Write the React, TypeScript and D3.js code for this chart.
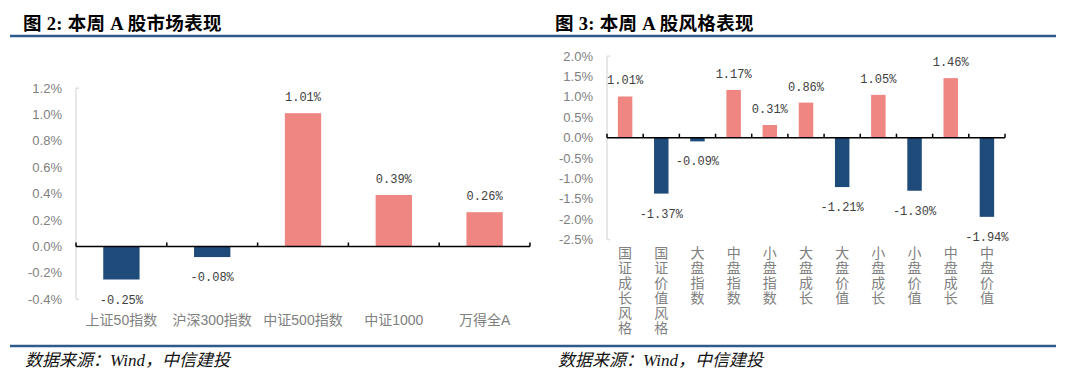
import React from "react";
import * as d3 from "d3";

const marketCategories = ["上证50指数", "沪深300指数", "中证500指数", "中证1000", "万得全A"];
const marketValues = [-0.25, -0.08, 1.01, 0.39, 0.26];
const marketTicks = [-0.4, -0.2, 0, 0.2, 0.4, 0.6, 0.8, 1.0, 1.2];

const styleCategories = [
  "国证成长风格", "国证价值风格", "大盘指数", "中盘指数", "小盘指数", "大盘成长",
  "大盘价值", "小盘成长", "小盘价值", "中盘成长", "中盘价值",
];
const styleValues = [1.01, -1.37, -0.09, 1.17, 0.31, 0.86, -1.21, 1.05, -1.3, 1.46, -1.94];
const styleTicks = [-2.5, -2.0, -1.5, -1.0, -0.5, 0, 0.5, 1.0, 1.5, 2.0];

const POS = "#EF8682";
const NEG = "#1F4B7A";
const RULE = "#2F5B8B";
const AXIS_TEXT = "#808080";
const LABEL_TEXT = "#404040";
const SANS = "'Liberation Sans', Arial, 'Noto Sans CJK SC', sans-serif";
const MONO = "'Liberation Mono', 'DejaVu Sans Mono', monospace";
const SERIF = "'Liberation Serif', 'Noto Sans CJK SC', serif";

type PanelProps = {
  cats: string[];
  vals: number[];
  ticks: number[];
  x0: number;
  x1: number;
  yTop: number;
  yBot: number;
  dMin: number;
  dMax: number;
  tickLabelX: number;
  vertical: boolean;
  catY: number;
};

function Panel(p: PanelProps) {
  const x = d3.scaleBand<string>().domain(p.cats).range([p.x0, p.x1]).padding(0);
  const y = d3.scaleLinear().domain([p.dMin, p.dMax]).range([p.yBot, p.yTop]);
  const bw = x.bandwidth();
  const barW = bw * 0.4;
  const y0 = y(0);
  const fmtTick = (v: number) => v.toFixed(1) + "%";
  const boundaries = p.cats.map((c) => x(c) as number).concat([p.x1]);
  return (
    <g>
      <line x1={p.x0} x2={p.x0} y1={p.yTop} y2={p.yBot} stroke="#D9D9D9" strokeWidth={1.2} />
      <line x1={p.x0} x2={p.x0 + 3} y1={p.yTop} y2={p.yTop} stroke="#D9D9D9" strokeWidth={1.2} />
      <line x1={p.x0} x2={p.x0 + 3} y1={p.yBot} y2={p.yBot} stroke="#D9D9D9" strokeWidth={1.2} />
      {p.ticks.map((t) => (
        <text
          key={t}
          x={p.tickLabelX}
          y={y(t)}
          dy="0.35em"
          textAnchor="end"
          fontFamily={SANS}
          fontSize={13}
          fill={AXIS_TEXT}
        >
          {fmtTick(t)}
        </text>
      ))}
      {p.cats.map((c, i) => {
        const v = p.vals[i];
        const cx = (x(c) as number) + bw / 2;
        const yv = y(v);
        const top = Math.min(yv, y0);
        const h = Math.abs(yv - y0);
        return (
          <g key={c}>
            <rect x={cx - barW / 2} y={top} width={barW} height={h} fill={v >= 0 ? POS : NEG} />
            <text
              x={cx}
              y={v >= 0 ? yv - 12 : yv + 24}
              textAnchor="middle"
              fontFamily={MONO}
              fontSize={12}
              fill={LABEL_TEXT}
            >
              {v.toFixed(2) + "%"}
            </text>
          </g>
        );
      })}
      <line x1={p.x0} x2={p.x1} y1={y0} y2={y0} stroke="#000" strokeWidth={1.5} />
      {boundaries.map((bx, i) => (
        <line key={i} x1={bx} x2={bx} y1={y0} y2={y0 - 4} stroke="#000" strokeWidth={1.5} />
      ))}
      {p.cats.map((c) => {
        const cx = (x(c) as number) + bw / 2;
        if (!p.vertical) {
          return (
            <text
              key={c}
              x={cx}
              y={p.catY}
              textAnchor="middle"
              fontFamily={SANS}
              fontSize={14}
              fill={AXIS_TEXT}
            >
              {c}
            </text>
          );
        }
        return (
          <text key={c} textAnchor="middle" fontFamily={SANS} fontSize={14} fill={AXIS_TEXT}>
            {Array.from(c).map((ch, j) => (
              <tspan key={j} x={cx} y={p.catY + j * 15} dy="0.35em">
                {ch}
              </tspan>
            ))}
          </text>
        );
      })}
    </g>
  );
}

export default function App() {
  return (
    <svg
      width={1080}
      height={381}
      style={{ position: "absolute", left: 0, top: 0, background: "#fff" }}
    >
      <rect width={1080} height={381} fill="#fff" />
      <text x={23} y={30} fontFamily={SERIF} fontWeight="bold" fontSize={18.5} letterSpacing={0.3} fill="#000">
        图 2: 本周 A 股市场表现
      </text>
      <text x={555} y={30} fontFamily={SERIF} fontWeight="bold" fontSize={18.5} letterSpacing={0.3} fill="#000">
        图 3: 本周 A 股风格表现
      </text>
      <line x1={10} x2={1056} y1={36} y2={36} stroke={RULE} strokeWidth={2.5} />
      <line x1={10} x2={1056} y1={346} y2={346} stroke={RULE} strokeWidth={2.5} />

      <Panel
        cats={marketCategories}
        vals={marketValues}
        ticks={marketTicks}
        x0={76}
        x1={530}
        yTop={88.1}
        yBot={299.3}
        dMin={-0.4}
        dMax={1.2}
        tickLabelX={62}
        vertical={false}
        catY={325}
      />
      <Panel
        cats={styleCategories}
        vals={styleValues}
        ticks={styleTicks}
        x0={607}
        x1={1005}
        yTop={56.1}
        yBot={239.7}
        dMin={-2.5}
        dMax={2.0}
        tickLabelX={593}
        vertical={true}
        catY={253}
      />

      <text x={25} y={366} fontFamily={SERIF} fontStyle="italic" fontSize={17} fill="#111">
        数据来源：Wind，中信建投
      </text>
      <text x={558} y={366} fontFamily={SERIF} fontStyle="italic" fontSize={17} fill="#111">
        数据来源：Wind，中信建投
      </text>
    </svg>
  );
}
